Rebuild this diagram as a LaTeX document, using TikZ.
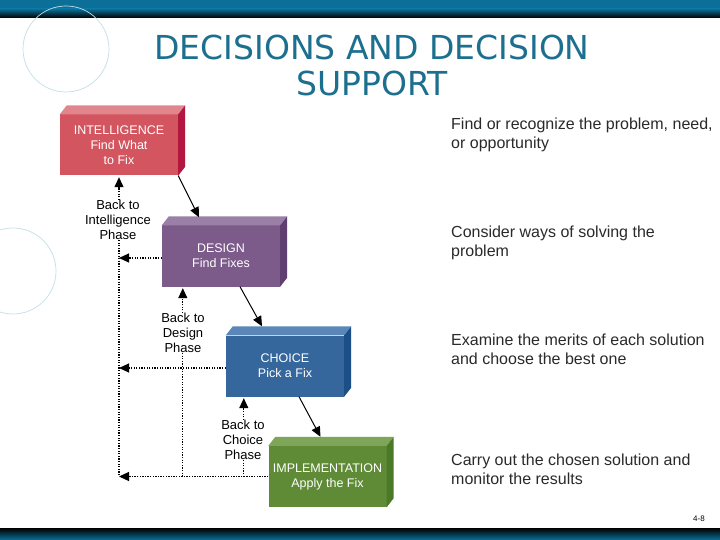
\documentclass[tikz,border=0pt]{standalone}
\usepackage{fontspec}
\setmainfont{Liberation Sans}
\newfontfamily\titlefont{DejaVu Sans}
\usetikzlibrary{arrows.meta,calc}
\definecolor{bar}{HTML}{0B6F97}
\definecolor{titlec}{HTML}{1C6F8E}
\definecolor{ring}{HTML}{C4DFE8}
\definecolor{descc}{HTML}{2A2A2A}
\definecolor{intF}{HTML}{D2555F}
\definecolor{intT}{HTML}{E2868E}
\definecolor{intS}{HTML}{B2173F}
\definecolor{desF}{HTML}{7C5B8B}
\definecolor{desT}{HTML}{9A80A7}
\definecolor{desS}{HTML}{5F3E70}
\definecolor{choF}{HTML}{35679D}
\definecolor{choT}{HTML}{5A86B8}
\definecolor{choS}{HTML}{1C4F88}
\definecolor{impF}{HTML}{5F8B36}
\definecolor{impT}{HTML}{7FA558}
\definecolor{impS}{HTML}{4A7A25}
\tikzset{
  cube/.style={minimum width=118pt, minimum height=61pt, inner sep=0pt,
    text=white, font=\fontsize{12.5}{15}\selectfont, align=center},
  backlbl/.style={font=\fontsize{13}{15}\selectfont, align=center, inner sep=0pt},
  flow/.style={-{Triangle[length=10pt,width=9pt]}, line width=1pt},
  backline/.style={dash pattern=on 1.3pt off 1.3pt, line width=1.1pt},
  backarrow/.style={backline, -{Triangle[length=10pt,width=9pt]}},
  desc/.style={anchor=north west, inner sep=0pt, align=left, text=descc,
    font=\fontsize{16}{19}\selectfont},
}
\newcommand{\cubefaces}[3]{%
  \fill[#2] (#1.north west) -- ++(7,-9) -- ([shift={(7,-9)}]#1.north east) -- (#1.north east) -- cycle;
  \fill[#3] (#1.north east) -- ++(7,-9) -- ([shift={(7,-9)}]#1.south east) -- (#1.south east) -- cycle;
}
\begin{document}
\begin{tikzpicture}[x=1pt,y=-1pt]
\useasboundingbox (0,0) rectangle (720,540);
\fill[white] (0,0) rectangle (720,540);
% bars
\fill[bar] (0,0) rectangle (720,9);
\shade[top color=bar, bottom color=black] (0,9) rectangle (720,18);
\shade[top color=black, bottom color=bar] (0,528) rectangle (720,540);
% rings
\draw[ring, line width=0.7pt] (66,49) ellipse [x radius=43, y radius=43];
\draw[ring, line width=0.7pt] (13,271) ellipse [x radius=43, y radius=43];
% title
\node[font=\titlefont\fontsize{33}{36}\selectfont, text=titlec, align=center] (title) at (372,65) {DECISIONS AND DECISION\\SUPPORT};
% cubes
\node[cube, fill=intF] (intel) at (119,145) {INTELLIGENCE\\Find What\\to Fix};
\cubefaces{intel}{intT}{intS}
\node[cube, fill=desF] (design) at (221,256) {DESIGN\\Find Fixes};
\cubefaces{design}{desT}{desS}
\node[cube, fill=choF] (choice) at (285,366) {CHOICE\\Pick a Fix};
\cubefaces{choice}{choT}{choS}
\node[cube, fill=impF] (impl) at (327.5,476.5) {IMPLEMENTATION\\Apply the Fix};
\cubefaces{impl}{impT}{impS}
% flow arrows
\draw[flow] (intel.south east) -- ($(design.north)+(-22,-8)$);
\draw[flow] ($(design.south)+(19,0)$) -- ($(choice.north)+(-23,-9)$);
\draw[flow] ($(choice.south)+(14,0)$) -- ($(impl.north)+(-7,-9)$);
% back labels
\node[backlbl] (bi) at (118,220) {Back to\\Intelligence\\Phase};
\node[backlbl] (bd) at (183,333) {Back to\\Design\\Phase};
\node[backlbl] (bc) at (243,440) {Back to\\Choice\\Phase};
% coordinates for dotted lines
\coordinate (xi) at (intel.south);
\coordinate (xd) at ($(design.south west)+(21,0)$);
\coordinate (xc) at ($(choice.south west)+(18,0)$);
% back arrows up
\draw[backarrow] (bi.north -| xi) -- ($(intel.south)+(0,1.5)$);
\draw[backarrow] (bd.north -| xd) -- ($(xd)+(0,1.5)$);
\draw[backarrow] (bc.north -| xc) -- ($(xc)+(0,1.5)$);
% vertical dotted lines
\draw[backline] (bi.south -| xi) -- (impl.west -| xi);
\draw[backline] (bd.south -| xd) -- (impl.west -| xd);
\draw[backline] (bc.south -| xc) -- (impl.west -| xc);
% horizontal arrows left
\draw[backarrow] ($(design.west)+(0,2)$) -- ($(design.west -| xi)+(0,2)$);
\draw[backarrow] ($(choice.west)+(0,2)$) -- ($(choice.west -| xi)+(0,2)$);
\draw[backarrow] (impl.west) -- (impl.west -| xi);
% descriptions
\node[desc] (d1) at (451,118) {Find or recognize the problem, need,\\or opportunity};
\node[desc] (d2) at (451,226) {Consider ways of solving the\\problem};
\node[desc] (d3) at (451,334) {Examine the merits of each solution\\and choose the best one};
\node[desc] (d4) at (451,454) {Carry out the chosen solution and\\monitor the results};
% page number
\node[font=\fontsize{8}{9}\selectfont, inner sep=0pt] (pg) at (699,519) {4-8};
\end{tikzpicture}
\end{document}
